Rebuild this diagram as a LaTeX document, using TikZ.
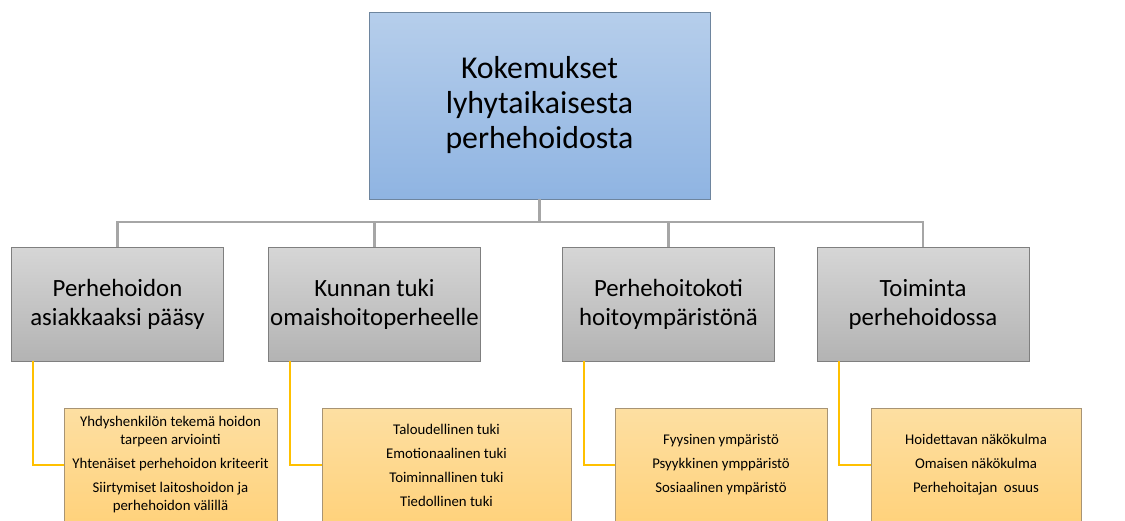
\documentclass[tikz,border=0pt]{standalone}
\usepackage{fontspec}
\setmainfont{Carlito}
\usepackage{xcolor}
\usepackage{tikz}
\usetikzlibrary{positioning, arrows.meta}

\definecolor{topfillA}{HTML}{B6CEEB}
\definecolor{topfillB}{HTML}{8FB4E2}
\definecolor{topedge}{HTML}{6E859E}
\definecolor{catfillA}{HTML}{D6D6D6}
\definecolor{catfillB}{HTML}{B3B3B3}
\definecolor{catedge}{HTML}{7F7F7F}
\definecolor{subfillA}{HTML}{FDDFA2}
\definecolor{subfillB}{HTML}{FFD27C}
\definecolor{subedge}{HTML}{A89474}
\definecolor{treegray}{HTML}{A6A6A6}
\definecolor{subyellow}{HTML}{FFC000}

\begin{document}
\begin{tikzpicture}[x=0.5pt, y=-0.5pt]
            % Define styles for the boxes and lines
            \tikzstyle{topbox} = [draw=topedge, rectangle, top color=topfillA, bottom color=topfillB, minimum width=170.5pt, minimum height=93.5pt, align=center, font=\fontsize{15.9}{17.5}\selectfont]
            \tikzstyle{catbox} = [draw=catedge, rectangle, top color=catfillA, bottom color=catfillB, minimum width=106pt, minimum height=57pt, inner xsep=0.5pt, align=center, font=\fontsize{12.4}{14.5}\selectfont]
            \tikzstyle{subbox} = [draw=subedge, rectangle, top color=subfillA, bottom color=subfillB, minimum height=57pt, align=center, font=\fontsize{7.4}{9}\selectfont]
            \tikzstyle{treeline} = [draw=treegray, line width=1.1pt]
            \tikzstyle{subline} = [draw=subyellow, line width=1.1pt]

            \useasboundingbox (0,0) rectangle (1125,520);
            \clip (0,0) rectangle (1125,520);

            % Main topic
            \node [topbox] (topic) at (539.5,105.5) {Kokemukset\\lyhytaikaisesta\\perhehoidosta};
            \coordinate (bus) at (539.5,222);

            % Categories
            \node [catbox] (entry) at (117.5,304) {Perhehoidon\\asiakkaaksi pääsy};
            \node [catbox] (support) at (374.5,304) {Kunnan tuki\\omaishoitoperheelle};
            \node [catbox] (home) at (668.5,304) {Perhehoitokoti\\hoitoympäristönä};
            \node [catbox] (action) at (923,304) {Toiminta\\perhehoidossa};

            % Sub-items
            \node [subbox, minimum width=106.5pt] (entryitems) at (170.5,465) {Yhdyshenkilön tekemä hoidon\\tarpeen arviointi\\[3pt]Yhtenäiset perhehoidon kriteerit\\[3pt]Siirtymiset laitoshoidon ja\\perhehoidon välillä};
            \node [subbox, minimum width=124.5pt] (supportitems) at (446.5,465) {Taloudellinen tuki\\[3pt]Emotionaalinen tuki\\[3pt]Toiminnallinen tuki\\[3pt]Tiedollinen tuki};
            \node [subbox, minimum width=106pt] (homeitems) at (721,465) {Fyysinen ympäristö\\[3pt]Psyykkinen ymppäristö\\[3pt]Sosiaalinen ympäristö};
            \node [subbox, minimum width=105pt] (actionitems) at (976,465) {Hoidettavan näkökulma\\[3pt]Omaisen näkökulma\\[3pt]Perhehoitajan\ \ osuus};

            % Tree lines
            \draw [treeline] (topic.south) -- (bus);
            \draw [treeline] (entry.north) |- (bus);
            \draw [treeline] (support.north) |- (bus);
            \draw [treeline] (home.north) |- (bus);
            \draw [treeline] (action.north) |- (bus);

            % Lines to the sub-items
            \draw [subline] ([xshift=11pt]entry.south west) |- (entryitems.west);
            \draw [subline] ([xshift=11pt]support.south west) |- (supportitems.west);
            \draw [subline] ([xshift=11pt]home.south west) |- (homeitems.west);
            \draw [subline] ([xshift=11pt]action.south west) |- (actionitems.west);
        \end{tikzpicture}
\end{document}
